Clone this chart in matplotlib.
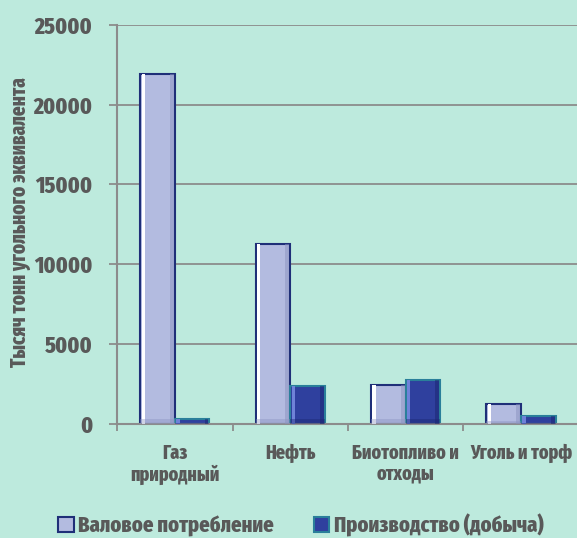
import matplotlib
matplotlib.use("Agg")
from matplotlib import pyplot as plt
from matplotlib.patches import Rectangle
import numpy as np

categories = ["Газ\nприродный", "Нефть", "Биотопливо и\nотходы", "Уголь и торф"]
consumption = [21900, 11250, 2450, 1250]
production = [300, 2380, 2750, 480]
series_names = ["Валовое потребление", "Производство (добыча)"]
y_ticks = [0, 5000, 10000, 15000, 20000, 25000]

BG = "#bdeadd"
TEXT = "#595959"
GRID = "#8c8c8c"
FONT = ["Fira Sans Extra Condensed", "DejaVu Sans"]
W = 800

plt.rcParams["font.family"] = FONT
plt.rcParams["font.weight"] = W


def bevel(ax, bars, light, dark):
    # fake the bevelled look of the original bars
    for b in bars:
        x, y = b.get_x(), b.get_y()
        w, h = b.get_width(), b.get_height()
        dx = w * 0.14
        dy = min(h * 0.25, 500)
        ax.add_patch(Rectangle((x + dx * 0.3, y), dx * 0.7, h, color=light,
                               lw=0, zorder=3))
        ax.add_patch(Rectangle((x + w - dx, y), dx * 0.8, h, color=dark,
                               lw=0, zorder=3, alpha=0.5))
        ax.add_patch(Rectangle((x, y), w, dy * 0.6, color=dark,
                               lw=0, zorder=3, alpha=0.4))


fig = plt.figure(figsize=(5.77, 5.38), dpi=100, facecolor=BG)
ax = fig.add_axes([0.203, 0.212, 0.800, 0.742], facecolor=BG)

x = np.arange(len(categories))
w = 0.30
b1 = ax.bar(x - w / 2, consumption, w, color="#b3bbe0", edgecolor="#1f2f78",
            lw=1.5, zorder=2, label=series_names[0])
b2 = ax.bar(x + w / 2, production, w, color="#2f409e", edgecolor="#2a7f9a",
            lw=1.5, zorder=2, label=series_names[1])
bevel(ax, b1, "#ffffff", "#8a92c0")
bevel(ax, b2, "#6f82d8", "#1a2570")

ax.set_ylim(0, 25000)
ax.set_xlim(-0.5, 3.5)
ax.set_yticks(y_ticks)
ax.set_yticklabels([str(v) for v in y_ticks], color=TEXT, fontsize=17,
                   fontweight=W)
ax.yaxis.grid(True, color=GRID, lw=1.3, zorder=1)
ax.set_axisbelow(True)

ax.set_xticks(x)
ax.set_xticklabels(categories, color=TEXT, fontsize=14, fontweight=W,
                   linespacing=1.1)
ax.tick_params(axis="x", length=0, pad=14)
ax.set_xticks(np.arange(-0.5, 4.0, 1.0), minor=True)
ax.tick_params(axis="x", which="minor", length=5, color=GRID, width=1.3)
ax.tick_params(axis="y", length=6, color=GRID, width=1.3, pad=12)

for s in ["top", "right"]:
    ax.spines[s].set_visible(False)
for s in ["left", "bottom"]:
    ax.spines[s].set_color(GRID)
    ax.spines[s].set_linewidth(1.5)

fig.text(20 / 577, 1 - 222 / 538, "Тысяч тонн угольного эквивалента",
         rotation=90, ha="center", va="center", color=TEXT, fontsize=15,
         fontweight=W)

fig.legend(loc="lower left", ncol=2, frameon=False, bbox_to_anchor=(0.066, -0.035),
           prop={"family": FONT, "weight": W, "size": 16},
           labelcolor=TEXT, handlelength=0.7, handleheight=0.7,
           handletextpad=0.2, columnspacing=1.8)

fig.savefig("out.png", dpi=100, facecolor=BG)
